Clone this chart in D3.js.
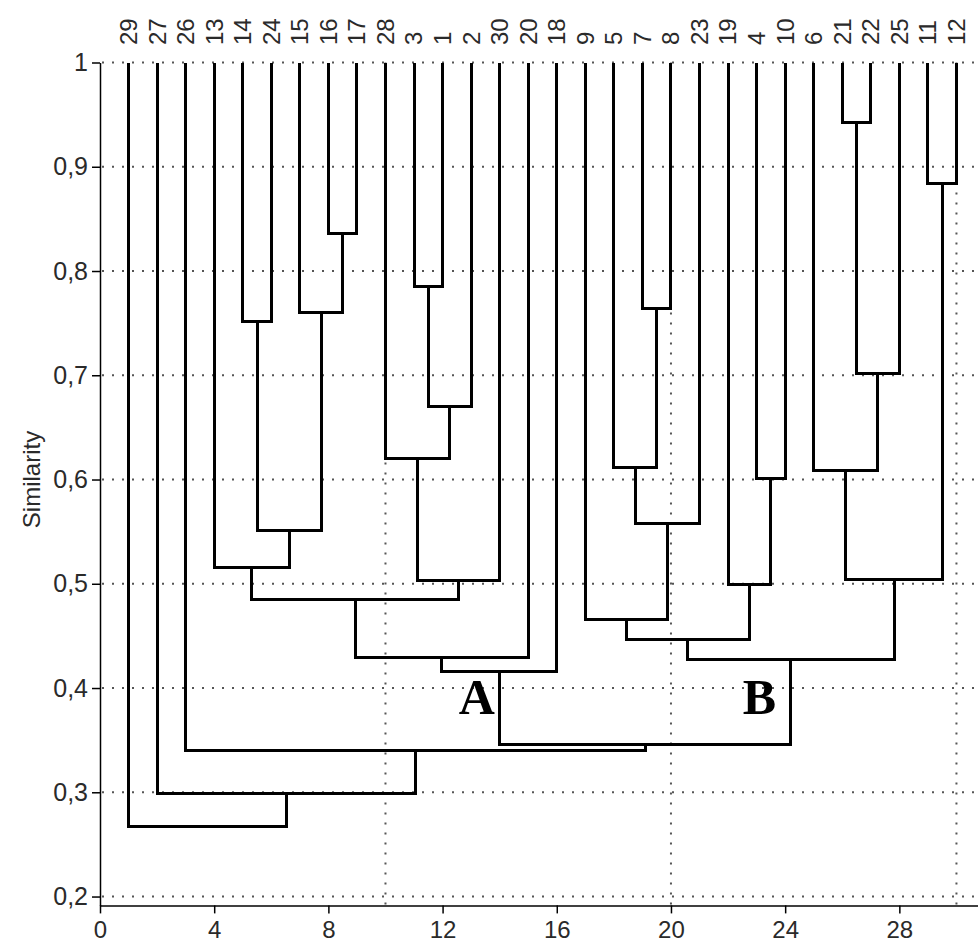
<!DOCTYPE html>
<html lang="en">
<head>
    <meta charset="UTF-8">
    <title>Dendrogram - Similarity</title>
    <script src="https://cdn.jsdelivr.net/npm/d3@7"></script>
    <style>
        body {
            margin: 0;
            background-color: #ffffff;
        }
        .tick text {
            font-family: Arial, 'Liberation Sans', sans-serif;
            fill: #2a2a2a;
        }
        .grid line {
            stroke: #555;
            stroke-width: 2;
            stroke-dasharray: 2, 8;
        }
        .branch {
            fill: none;
            stroke: #000;
            stroke-width: 3;
            shape-rendering: crispEdges;
        }
    </style>
</head>
<body>
    <div id="chart"></div>
    <script>
        // Leaf labels in the order they appear from left to right
        const leafOrder = [29, 27, 26, 13, 14, 24, 15, 16, 17, 28, 3, 1, 2, 30, 20, 18,
                           9, 5, 7, 8, 23, 19, 4, 10, 6, 21, 22, 25, 11, 12];

        // Merges: [left, right, similarity]; "cN" points to merge number N
        const merges = [
            [21, 22, 0.942],     // c0
            [11, 12, 0.884],     // c1
            [16, 17, 0.836],     // c2
            [3, 1, 0.785],       // c3
            [7, 8, 0.764],       // c4
            [15, "c2", 0.760],   // c5
            [14, 24, 0.752],     // c6
            ["c0", 25, 0.702],   // c7
            ["c3", 2, 0.670],    // c8
            [28, "c8", 0.620],   // c9
            [5, "c4", 0.612],    // c10
            [6, "c7", 0.609],    // c11
            [4, 10, 0.601],      // c12
            ["c10", 23, 0.558],  // c13
            ["c6", "c5", 0.551], // c14
            [13, "c14", 0.516],  // c15
            ["c11", "c1", 0.504],// c16
            ["c9", 30, 0.503],   // c17
            [19, "c12", 0.499],  // c18
            ["c15", "c17", 0.485], // c19
            [9, "c13", 0.466],   // c20
            ["c20", "c18", 0.447], // c21
            ["c19", 20, 0.429],  // c22
            ["c21", "c16", 0.427], // c23
            ["c22", 18, 0.416],  // c24
            ["c24", "c23", 0.346], // c25 (A with B)
            [26, "c25", 0.340],  // c26
            [27, "c26", 0.299],  // c27
            [29, "c27", 0.267]   // c28
        ];

        const yTicks = [0.2, 0.3, 0.4, 0.5, 0.6, 0.7, 0.8, 0.9, 1];
        const xTicks = [0, 4, 8, 12, 16, 20, 24, 28];
        const xGrid = [10, 20, 30];
        const groupLabels = [
            { text: "A", pos: 13.2, sim: 0.375 },
            { text: "B", pos: 23.1, sim: 0.375 }
        ];

        const width = 978, height = 945;

        const svg = d3.select("#chart")
            .append("svg")
            .attr("width", width)
            .attr("height", height);

        const x = d3.scaleLinear().domain([0, 31]).range([100, 985]);
        const y = d3.scaleLinear().domain([0.1915, 1]).range([905.4, 62.5]);

        // dotted grid
        const grid = svg.append("g").attr("class", "grid");
        grid.selectAll(".hline").data(yTicks).enter()
            .append("line")
            .attr("x1", x(0) + 2).attr("x2", width)
            .attr("y1", d => y(d)).attr("y2", d => y(d));
        grid.selectAll(".vline").data(xGrid).enter()
            .append("line")
            .attr("x1", d => x(d)).attr("x2", d => x(d))
            .attr("y1", y(1)).attr("y2", y(0.1915));

        // leaf positions and node positions
        const pos = {};
        leafOrder.forEach((leaf, i) => { pos[leaf] = { p: i + 1, h: 1 }; });
        merges.forEach((m, i) => {
            const a = pos[m[0]], b = pos[m[1]];
            pos["c" + i] = { p: (a.p + b.p) / 2, h: m[2] };
        });

        svg.append("g").selectAll("path")
            .data(merges)
            .enter()
            .append("path")
            .attr("class", "branch")
            .attr("d", m => {
                const a = pos[m[0]], b = pos[m[1]];
                return `M${x(a.p)},${y(a.h)}V${y(m[2])}H${x(b.p)}V${y(b.h)}`;
            });

        // axes
        const fmt = d => d === 1 ? "1" : d.toFixed(1).replace(".", ",");

        const yAxis = svg.append("g")
            .attr("transform", `translate(${x(0)},0)`)
            .call(d3.axisLeft(y).tickValues(yTicks).tickFormat(fmt).tickSize(8).tickSizeOuter(0).tickPadding(4));
        yAxis.selectAll("text").style("font-size", "25px");
        yAxis.selectAll("line, path").attr("stroke", "#000").attr("stroke-width", 1.5);

        const xAxis = svg.append("g")
            .attr("transform", `translate(0,${y(0.1915)})`)
            .call(d3.axisBottom(x).tickValues(xTicks).tickFormat(d3.format("d")).tickSize(8).tickSizeOuter(0).tickPadding(8));
        xAxis.selectAll("text").style("font-size", "24px");
        xAxis.selectAll("line, path").attr("stroke", "#000").attr("stroke-width", 1.5);

        // leaf labels along the top
        svg.append("g").selectAll("text")
            .data(leafOrder)
            .enter()
            .append("text")
            .attr("transform", (d, i) => `translate(${x(i + 1)},45) rotate(-90)`)
            .attr("dy", "0.35em")
            .style("font-family", "Arial, 'Liberation Sans', sans-serif")
            .style("font-size", "24px")
            .attr("fill", "#2a2a2a")
            .text(d => d);

        // axis title
        svg.append("text")
            .attr("transform", `translate(40,${y(0.6)}) rotate(-90)`)
            .attr("text-anchor", "middle")
            .style("font-family", "Arial, 'Liberation Sans', sans-serif")
            .style("font-size", "24px")
            .attr("fill", "#2a2a2a")
            .text("Similarity");

        // group letters
        svg.append("g").selectAll("text")
            .data(groupLabels)
            .enter()
            .append("text")
            .attr("x", d => x(d.pos))
            .attr("y", d => y(d.sim))
            .attr("text-anchor", "middle")
            .style("font-family", "'Liberation Serif', 'Times New Roman', serif")
            .style("font-weight", "bold")
            .style("font-size", "50px")
            .text(d => d.text);
    </script>
</body>
</html>
